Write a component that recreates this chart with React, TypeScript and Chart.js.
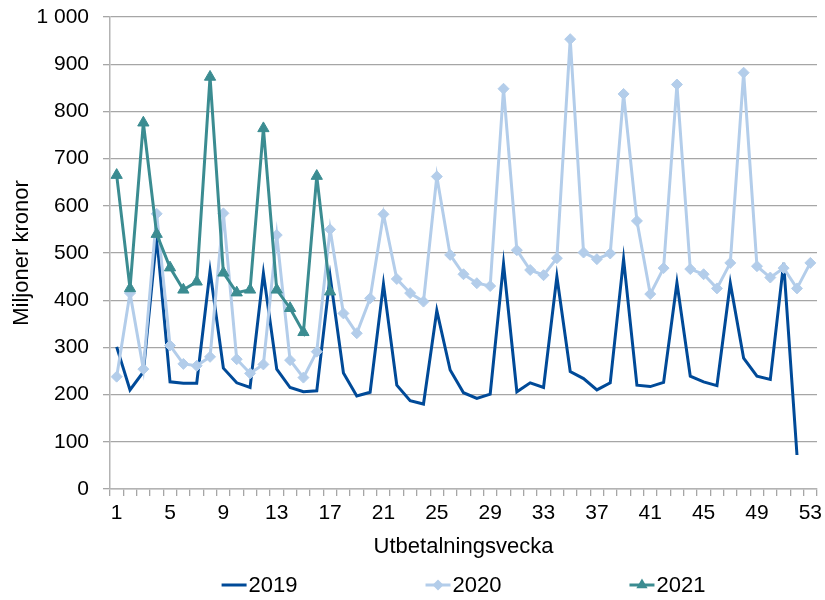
import { useEffect, useRef } from 'react';
import { Chart, registerables } from 'chart.js';

Chart.register(...registerables);

const weeks = [
  '1', '2', '3', '4', '5', '6', '7', '8', '9', '10', '11', '12', '13', '14', '15', '16', '17', '18',
  '19', '20', '21', '22', '23', '24', '25', '26', '27', '28', '29', '30', '31', '32', '33', '34', '35',
  '36', '37', '38', '39', '40', '41', '42', '43', '44', '45', '46', '47', '48', '49', '50', '51', '52', '53',
];

const values2019 = [
  301, 210, 248, 535, 227, 224, 224, 462, 256, 225, 215, 457, 254, 215, 206, 208, 451, 246,
  197, 205, 434, 220, 187, 180, 378, 252, 204, 192, 201, 477, 206, 225, 215, 450, 249,
  234, 210, 225, 487, 220, 217, 226, 437, 239, 227, 219, 436, 277, 239, 232, 479, 72, null,
];

const values2020 = [
  238, 415, 254, 583, 304, 265, 261, 280, 584, 275, 245, 264, 538, 273, 236, 291, 550, 372,
  330, 404, 582, 445, 415, 397, 662, 496, 455, 436, 430, 848, 506, 464, 453, 489, 953,
  501, 487, 499, 837, 568, 413, 468, 857, 466, 455, 425, 479, 882, 472, 448, 468, 425, 479,
];

const values2021 = [
  665, 425, 776, 540, 469, 422, 439, 873, 458, 416, 422, 764, 422, 383, 332, 663, 418,
];

const seriesNames = ['2019', '2020', '2021'];
const xTitle = 'Utbetalningsvecka';
const yTitle = 'Miljoner kronor';

const FONT = "'Liberation Sans', Arial, sans-serif";
const COLOR_2019 = '#004a98';
const COLOR_2020 = '#b3cdea';
const COLOR_2021 = '#3b8c91';
const GRID = '#a6a6a6';
const AXIS = '#b3b3b3';

function drawMarker(ctx: CanvasRenderingContext2D, style: string, x: number, y: number, r: number, color: string) {
  ctx.save();
  ctx.fillStyle = color;
  ctx.beginPath();
  if (style === 'rectRot') {
    ctx.moveTo(x, y - r);
    ctx.lineTo(x + r, y);
    ctx.lineTo(x, y + r);
    ctx.lineTo(x - r, y);
  } else if (style === 'triangle') {
    ctx.moveTo(x, y - r);
    ctx.lineTo(x + r * 0.866, y + r * 0.5);
    ctx.lineTo(x - r * 0.866, y + r * 0.5);
  }
  ctx.closePath();
  ctx.fill();
  ctx.restore();
}

const lineLegend = {
  id: 'lineLegend',
  afterDraw(chart: any) {
    const ctx: CanvasRenderingContext2D = chart.ctx;
    const area = chart.chartArea;
    const fontSize = 22;
    const lineLen = 25;
    const gap = 2;
    const spacing = 128;
    ctx.save();
    ctx.font = `${fontSize}px ${FONT}`;
    ctx.textBaseline = 'middle';
    ctx.textAlign = 'left';
    const order = [0, 1, 2];
    const items = order.map((i) => chart.data.datasets[i]);
    const widths = items.map((ds: any) => lineLen + gap + ctx.measureText(ds.label).width);
    const total = widths.reduce((a: number, b: number) => a + b, 0) + spacing * (items.length - 1);
    let x = (area.left + area.right) / 2 - total / 2;
    const y = chart.height - 15;
    items.forEach((ds: any, i: number) => {
      ctx.strokeStyle = ds.borderColor;
      ctx.lineWidth = 3;
      ctx.beginPath();
      ctx.moveTo(x, y);
      ctx.lineTo(x + lineLen, y);
      ctx.stroke();
      if (ds.pointRadius > 0) {
        drawMarker(ctx, ds.pointStyle, x + lineLen / 2, y, ds.pointRadius, ds.pointBackgroundColor);
      }
      ctx.fillStyle = '#000';
      ctx.fillText(ds.label, x + lineLen + gap, y + 1);
      x += widths[i] + spacing;
    });
    ctx.restore();
  },
};

export default function App() {
  const canvasRef = useRef<HTMLCanvasElement | null>(null);

  useEffect(() => {
    if (!canvasRef.current) return;
    Chart.defaults.color = '#000';
    Chart.defaults.font.family = FONT;
    const chart = new Chart(canvasRef.current, {
      type: 'line',
      data: {
        labels: weeks,
        datasets: [
          {
            label: seriesNames[0],
            data: values2019,
            borderColor: COLOR_2019,
            backgroundColor: COLOR_2019,
            borderWidth: 3,
            pointRadius: 0,
            pointHoverRadius: 0,
            tension: 0,
            order: 3,
          },
          {
            label: seriesNames[1],
            data: values2020,
            borderColor: COLOR_2020,
            backgroundColor: COLOR_2020,
            pointBackgroundColor: COLOR_2020,
            pointBorderColor: COLOR_2020,
            pointStyle: 'rectRot',
            pointRadius: 5.5,
            pointBorderWidth: 1,
            borderWidth: 3,
            tension: 0,
            order: 2,
          },
          {
            label: seriesNames[2],
            data: values2021,
            borderColor: COLOR_2021,
            backgroundColor: COLOR_2021,
            pointBackgroundColor: COLOR_2021,
            pointBorderColor: COLOR_2021,
            pointStyle: 'triangle',
            pointRadius: 6.5,
            pointBorderWidth: 1,
            borderWidth: 3,
            tension: 0,
            order: 1,
          },
        ],
      },
      options: {
        animation: false,
        responsive: true,
        maintainAspectRatio: false,
        layout: { padding: { top: 17, right: 8, bottom: 36, left: 0 } },
        plugins: {
          legend: { display: false },
          tooltip: { enabled: false },
        },
        scales: {
          x: {
            type: 'category',
            offset: true,
            grid: {
              display: true,
              drawOnChartArea: false,
              drawTicks: true,
              tickLength: 7,
              offset: true,
              color: GRID,
              lineWidth: 1.3,
            },
            border: { display: true, color: AXIS, width: 1.5 },
            ticks: {
              autoSkip: false,
              maxRotation: 0,
              minRotation: 0,
              padding: 5,
              font: { size: 21, family: FONT },
              color: '#000',
              callback: (_v: any, idx: number) => (idx % 4 === 0 ? weeks[idx] : ''),
            },
            title: {
              display: true,
              text: xTitle,
              font: { size: 22, family: FONT },
              color: '#000',
              padding: { top: 10, bottom: 4 },
            },
            afterFit: (scale: any) => {
              scale.height = 75;
              scale.paddingLeft = 0;
              scale.paddingRight = 0;
            },
          },
          y: {
            min: 0,
            max: 1000,
            grid: {
              color: GRID,
              lineWidth: 1.3,
              drawTicks: true,
              tickLength: 7,
            },
            border: { display: true, color: AXIS, width: 1.5 },
            ticks: {
              stepSize: 100,
              padding: 14,
              font: { size: 21, family: FONT },
              color: '#000',
              callback: (v: any) => String(v).replace(/\B(?=(\d{3})+(?!\d))/g, ' '),
            },
            title: {
              display: true,
              text: yTitle,
              font: { size: 22, family: FONT },
              color: '#000',
              padding: { top: 9, bottom: 0 },
            },
            afterFit: (scale: any) => {
              scale.width = 110;
              scale.paddingTop = 0;
              scale.paddingBottom = 0;
            },
          },
        },
      },
      plugins: [lineLegend],
    });
    return () => chart.destroy();
  }, []);

  return (
    <div style={{ position: 'fixed', left: 0, top: 0, width: '825px', height: '600px', background: '#fff' }}>
      <canvas ref={canvasRef} />
    </div>
  );
}
